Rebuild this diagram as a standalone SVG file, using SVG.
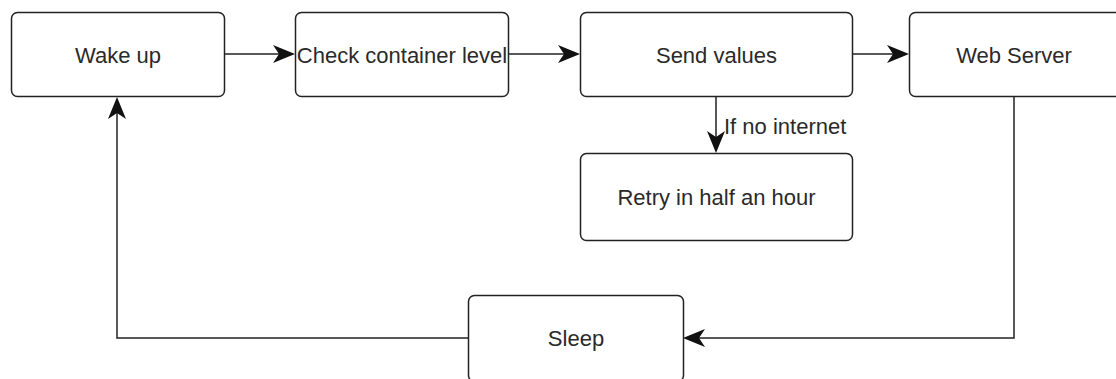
<svg xmlns="http://www.w3.org/2000/svg" width="1116" height="379" viewBox="0 0 1116 379">
  <style>
    .box { fill: #ffffff; stroke: #222222; stroke-width: 1.5; }
    .label { font-family: "Liberation Sans", Arial, sans-serif; font-size: 22px; fill: #2a2a2a; text-anchor: middle; }
    .edge-label { font-family: "Liberation Sans", Arial, sans-serif; font-size: 22px; fill: #2a2a2a; }
    .edge { fill: none; stroke: #222222; stroke-width: 1.5; }
  </style>
  <defs>
    <!-- classic notched arrowhead; tip sits 3px past the path end -->
    <marker id="arrow" markerUnits="userSpaceOnUse" markerWidth="28" markerHeight="22" viewBox="-22 -11 28 22" refX="0" refY="0" orient="auto" overflow="visible">
      <path d="M3,0 L-19,-9 L-13,0 L-19,9 Z" fill="#111111"/>
    </marker>
  </defs>
  <rect width="1116" height="379" fill="#ffffff"/>

  <g id="connectors">
    <path class="edge" d="M224,54 L292,54" marker-end="url(#arrow)"/>
    <path class="edge" d="M509,54 L577,54" marker-end="url(#arrow)"/>
    <path class="edge" d="M852,54 L906,54" marker-end="url(#arrow)"/>
    <path class="edge" d="M716,97 L716,150" marker-end="url(#arrow)"/>
    <path class="edge" d="M1014,97 L1014,338 L686,338" marker-end="url(#arrow)"/>
    <path class="edge" d="M468,338 L117,338 L117,100" marker-end="url(#arrow)"/>
    <text class="edge-label" x="724" y="134">If no internet</text>
  </g>

  <g id="wake-up">
    <rect class="box" x="11.5" y="12.5" width="213" height="84" rx="6"/>
    <text class="label" x="118" y="62.5">Wake up</text>
  </g>
  <g id="check-container-level">
    <rect class="box" x="295.5" y="12.5" width="213" height="84" rx="6"/>
    <text class="label" x="402" y="62.5">Check container level</text>
  </g>
  <g id="send-values">
    <rect class="box" x="580.5" y="12.5" width="272" height="84" rx="6"/>
    <text class="label" x="716.5" y="62.5">Send values</text>
  </g>
  <g id="web-server">
    <rect class="box" x="909.5" y="12.5" width="213" height="84" rx="6"/>
    <text class="label" x="1014" y="62.5">Web Server</text>
  </g>
  <g id="retry">
    <rect class="box" x="580.5" y="153.5" width="272" height="87" rx="6"/>
    <text class="label" x="716.5" y="204.5">Retry in half an hour</text>
  </g>
  <g id="sleep">
    <rect class="box" x="468.5" y="295.5" width="215" height="86" rx="6"/>
    <text class="label" x="576" y="346">Sleep</text>
  </g>
</svg>
